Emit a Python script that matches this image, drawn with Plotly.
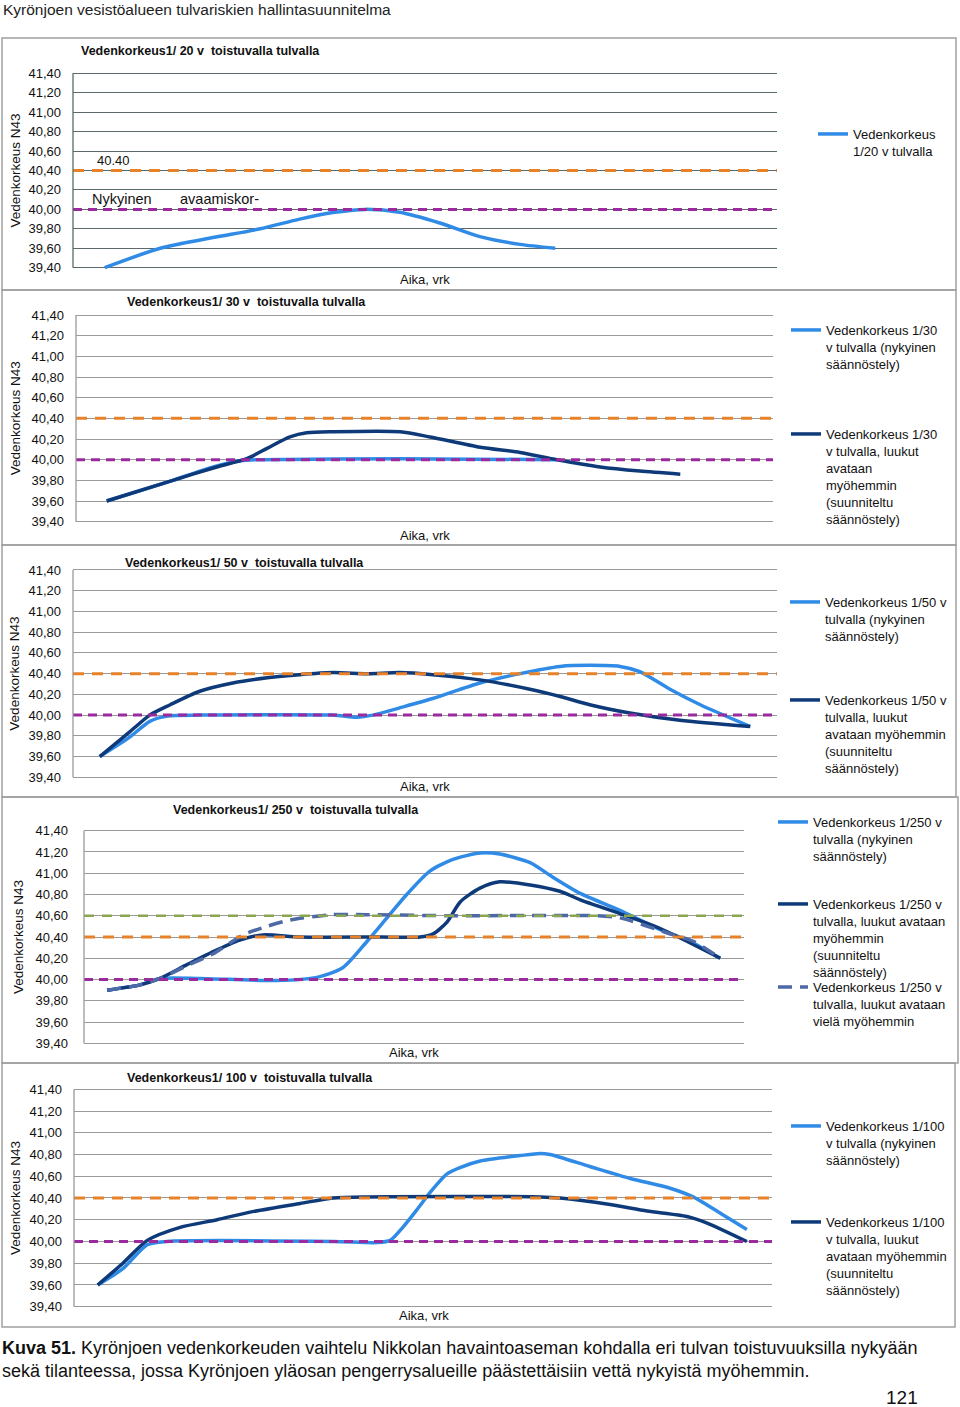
import plotly.graph_objects as go

FONT = "Liberation Sans, Arial, sans-serif"
W, H = 960, 1407

# ---------------- data ----------------
y_ticks = [39.40, 39.60, 39.80, 40.00, 40.20, 40.40, 40.60, 40.80, 41.00, 41.20, 41.40]
y_tick_labels = ["39,40", "39,60", "39,80", "40,00", "40,20", "40,40",
                 "40,60", "40,80", "41,00", "41,20", "41,40"]
y_low, y_high = 39.40, 41.40
y_pad = 0.02

level_orange = 40.40   # orange dashed reference level
level_purple = 40.00   # purple dashed reference level (nykyinen avaamiskorkeus)
level_green = 40.60    # green dashed reference level (1/250 panel)

# time axis: arbitrary units 0..100 across each plot (Aika, vrk)
t_span = [0, 100]

# 1/20
t20 = [4.5, 12.4, 19.9, 26.6, 32.2, 37.2, 41.5, 46.4, 52.1, 57.8, 63.5, 68.5]
h20 = [39.40, 39.60, 39.71, 39.80, 39.90, 39.97, 40.00, 39.97, 39.86, 39.72, 39.64, 39.60]

# 1/30
t30_now = [4.4, 13.9, 19.7, 23.5, 26.4, 46.5, 69.0]
h30_now = [39.60, 39.80, 39.93, 39.99, 40.00, 40.01, 40.00]
t30_plan = [4.4, 13.9, 19.7, 24.5, 27.4, 30.7, 33.1, 36.9, 46.5, 50.8, 58.0, 63.7, 69.0, 75.2, 80.9, 86.7]
h30_plan = [39.60, 39.80, 39.92, 40.01, 40.11, 40.22, 40.26, 40.27, 40.27, 40.22, 40.12, 40.07, 40.00, 39.93, 39.89, 39.86]

# 1/50
t50_now = [3.8, 8.1, 10.9, 13.4, 18.0, 36.9, 40.3, 42.6, 46.4, 51.1, 57.8, 63.5, 69.2, 73.4, 77.7, 80.5, 84.8, 89.1, 96.2]
h50_now = [39.60, 39.79, 39.94, 39.99, 40.00, 40.00, 39.98, 40.00, 40.07, 40.16, 40.31, 40.40, 40.47, 40.48, 40.47, 40.42, 40.25, 40.10, 39.89]
t50_plan = [3.8, 8.1, 10.9, 13.8, 18.0, 22.7, 27.6, 32.2, 36.9, 41.8, 46.4, 51.1, 57.8, 64.9, 69.2, 73.4, 79.1, 86.2, 96.2]
h50_plan = [39.60, 39.84, 40.00, 40.10, 40.23, 40.31, 40.36, 40.39, 40.41, 40.40, 40.41, 40.39, 40.34, 40.25, 40.18, 40.10, 40.02, 39.95, 39.89]

# 1/250
t250_now = [3.5, 8.5, 11.5, 17.6, 29.2, 35.3, 39.2, 42.9, 45.9, 48.9, 52.4, 55.9, 60.0, 63.0, 67.6, 70.6, 75.2, 81.2, 87.3, 91.8, 96.4]
h250_now = [39.90, 39.95, 40.01, 40.01, 39.99, 40.02, 40.11, 40.36, 40.58, 40.80, 41.02, 41.13, 41.19, 41.18, 41.10, 40.98, 40.81, 40.65, 40.47, 40.36, 40.20]
t250_plan = [3.5, 8.5, 11.5, 15.6, 19.5, 23.6, 27.1, 32.7, 45.0, 50.9, 52.9, 55.0, 57.0, 60.0, 63.0, 67.6, 72.1, 75.2, 81.2, 87.3, 96.4]
h250_plan = [39.90, 39.95, 40.01, 40.14, 40.26, 40.37, 40.42, 40.40, 40.40, 40.40, 40.43, 40.54, 40.73, 40.86, 40.92, 40.89, 40.83, 40.75, 40.62, 40.48, 40.20]
t250_later = [3.5, 8.5, 11.5, 15.6, 19.5, 24.1, 27.7, 31.2, 37.7, 42.9, 55.5, 77.7, 81.2, 88.3, 92.3, 96.4]
h250_later = [39.90, 39.95, 40.01, 40.13, 40.24, 40.42, 40.50, 40.56, 40.61, 40.61, 40.60, 40.60, 40.58, 40.44, 40.36, 40.20]

# 1/100
t100_now = [3.4, 7.0, 10.5, 13.3, 37.1, 43.4, 45.3, 47.1, 49.1, 51.0, 53.4, 55.3, 58.2, 63.9, 66.8, 68.2, 73.9, 79.7, 85.4, 88.7, 92.6, 96.4]
h100_now = [39.60, 39.75, 39.97, 40.00, 40.00, 39.99, 40.01, 40.13, 40.29, 40.45, 40.62, 40.68, 40.74, 40.79, 40.81, 40.80, 40.69, 40.58, 40.49, 40.41, 40.26, 40.11]
t100_plan = [3.4, 7.0, 10.5, 15.2, 20.5, 25.2, 32.4, 37.1, 42.0, 66.8, 69.6, 76.8, 82.1, 87.8, 90.7, 96.4]
h100_plan = [39.60, 39.80, 40.01, 40.13, 40.20, 40.27, 40.35, 40.40, 40.41, 40.41, 40.40, 40.34, 40.28, 40.23, 40.17, 40.00]

panel_titles = [
    "Vedenkorkeus1/ 20 v  toistuvalla tulvalla",
    "Vedenkorkeus1/ 30 v  toistuvalla tulvalla",
    "Vedenkorkeus1/ 50 v  toistuvalla tulvalla",
    "Vedenkorkeus1/ 250 v  toistuvalla tulvalla",
    "Vedenkorkeus1/ 100 v  toistuvalla tulvalla",
]

# ---------------- style ----------------
LIGHT = "#2f8be6"
DARK = "#0e3a7a"
ORANGE = "#e8822a"
PURPLE = "#9a2a9e"
GREEN = "#8ca650"
LATER = "#4d6aa6"

# panel geometry in px: plot left, right, top(41.40), bottom(39.40)
geo = [
    (73, 777, 73.3, 267.7),
    (76, 773, 315.0, 521.7),
    (73, 777, 570.0, 777.3),
    (84, 744, 830.7, 1043.3),
    (74, 772, 1089.3, 1306.7),
]
boxes = [(2, 38, 956, 290), (2, 290, 956, 545), (2, 545, 956, 797),
         (2, 797, 958, 1063), (2, 1063, 955, 1327)]
title_pos = [(200, 51), (247, 302), (245, 563), (296, 810), (250, 1078)]
aika_pos = [(425, 279), (425, 535), (425, 786), (414, 1052), (424, 1315)]
ytitle_x = [15, 15, 15, 18, 15]
gridcols = ["#5a6a6c", "#9a9a9a", "#9a9a9a", "#9a9a9a", "#9a9a9a"]

fig = go.Figure()


def ax(i):
    return ("x" if i == 0 else f"x{i+1}"), ("y" if i == 0 else f"y{i+1}")


def px2x(p):
    return p / W


def px2y(p):
    return 1 - p / H


legend_count = [0]
legend_specs = []


def series(i, t, h, color, name, text_x, line_y, dash="solid", width=3.5):
    legend_count[0] += 1
    n = legend_count[0]
    lname = "legend" if n == 1 else f"legend{n}"
    xa, ya = ax(i)
    fig.add_trace(go.Scatter(
        x=t, y=h, mode="lines", name=name, xaxis=xa, yaxis=ya,
        line=dict(color=color, width=width, shape="spline", smoothing=0.7, dash=dash),
        legend=lname, showlegend=True, hoverinfo="skip"))
    legend_specs.append((lname, text_x, line_y))


def level(i, value, color, dash, width=3):
    xa, ya = ax(i)
    fig.add_trace(go.Scatter(
        x=t_span, y=[value, value], mode="lines", xaxis=xa, yaxis=ya,
        line=dict(color=color, width=width, dash=dash), showlegend=False, hoverinfo="skip"))


# panel 1
series(0, t20, h20, LIGHT, "Vedenkorkeus<br>1/20 v tulvalla", 853, 134)
# panel 2
series(1, t30_now, h30_now, LIGHT, "Vedenkorkeus 1/30<br>v tulvalla (nykyinen<br>säännöstely)", 826, 330)
series(1, t30_plan, h30_plan, DARK, "Vedenkorkeus 1/30<br>v tulvalla, luukut<br>avataan<br>myöhemmin<br>(suunniteltu<br>säännöstely)", 826, 434)
# panel 3
series(2, t50_now, h50_now, LIGHT, "Vedenkorkeus 1/50 v<br>tulvalla (nykyinen<br>säännöstely)", 825, 602)
series(2, t50_plan, h50_plan, DARK, "Vedenkorkeus 1/50 v<br>tulvalla, luukut<br>avataan myöhemmin<br>(suunniteltu<br>säännöstely)", 825, 700)
# panel 4
series(3, t250_now, h250_now, LIGHT, "Vedenkorkeus 1/250 v<br>tulvalla (nykyinen<br>säännöstely)", 813, 822)
series(3, t250_plan, h250_plan, DARK, "Vedenkorkeus 1/250 v<br>tulvalla, luukut avataan<br>myöhemmin<br>(suunniteltu<br>säännöstely)", 813, 904)
series(3, t250_later, h250_later, LATER, "Vedenkorkeus 1/250 v<br>tulvalla, luukut avataan<br>vielä myöhemmin", 813, 987, dash="14px,8px")
# panel 5
series(4, t100_now, h100_now, LIGHT, "Vedenkorkeus 1/100<br>v tulvalla (nykyinen<br>säännöstely)", 826, 1126)
series(4, t100_plan, h100_plan, DARK, "Vedenkorkeus 1/100<br>v tulvalla, luukut<br>avataan myöhemmin<br>(suunniteltu<br>säännöstely)", 826, 1222)

for i in range(5):
    if i == 3:
        level(i, level_green, GREEN, "10px,8px", 2.5)
    level(i, level_orange, ORANGE, "11px,8px", 3)
    level(i, level_purple, PURPLE, "9px,6px", 3)

layout = dict(
    width=W, height=H, margin=dict(l=0, r=0, t=0, b=0, pad=0, autoexpand=False),
    paper_bgcolor="white", plot_bgcolor="white",
    font=dict(family=FONT, color="#111", size=13),
    showlegend=True,
)

for i, (l, r, t, b) in enumerate(geo):
    sx = "" if i == 0 else str(i + 1)
    ext = (b - t) * y_pad / (y_high - y_low)
    layout["xaxis" + sx] = dict(
        domain=[px2x(l), px2x(r)], range=t_span, anchor="y" + sx,
        showgrid=False, zeroline=False, showticklabels=False, showline=False, ticks="",
        fixedrange=True, automargin=False)
    layout["yaxis" + sx] = dict(
        domain=[px2y(b + ext), px2y(t - ext)], range=[y_low - y_pad, y_high + y_pad], anchor="x" + sx,
        tickvals=y_ticks, ticktext=y_tick_labels, showgrid=True, gridcolor=gridcols[i],
        gridwidth=1.3, zeroline=False, showline=False, automargin=False,
        ticks="", ticklabelstandoff=11 if i != 3 else 15,
        tickfont=dict(family=FONT, size=13, color="#111"), fixedrange=True)

for lname, tx, ly in legend_specs:
    layout[lname] = dict(
        x=px2x(tx - 40), y=px2y(ly - 15), xanchor="left", yanchor="top",
        bgcolor="rgba(0,0,0,0)", valign="top", itemwidth=30,
        font=dict(family=FONT, size=13, color="#111"))

fig.update_layout(**layout)

shapes = []
for (x0, y0, x1, y1) in boxes:
    shapes.append(dict(type="rect", xref="paper", yref="paper",
                       x0=px2x(x0), x1=px2x(x1), y0=px2y(y1), y1=px2y(y0),
                       line=dict(color="#a0a0a0", width=1.5), fillcolor="rgba(0,0,0,0)", layer="below"))
# left value-axis lines, from 39.40 to 41.40 on each y axis
for i in range(5):
    xa, ya = ax(i)
    shapes.append(dict(type="line", xref=xa + " domain", yref=ya, x0=0, x1=0, y0=y_low, y1=y_high,
                       line=dict(color=gridcols[i], width=1.3)))
fig.update_layout(shapes=shapes)

ann = []
for i in range(5):
    l, r, t, b = geo[i]
    tx, ty = title_pos[i]
    ann.append(dict(text="<b>" + panel_titles[i] + "</b>", x=px2x(tx), y=px2y(ty),
                    xref="paper", yref="paper", showarrow=False, xanchor="center", yanchor="middle",
                    font=dict(family=FONT, size=12.5, color="#111")))
    ax_, ay_ = aika_pos[i]
    ann.append(dict(text="Aika, vrk", x=px2x(ax_), y=px2y(ay_), xref="paper", yref="paper",
                    showarrow=False, xanchor="center", yanchor="middle",
                    font=dict(family=FONT, size=13, color="#111")))
    ann.append(dict(text="Vedenkorkeus N43", x=px2x(ytitle_x[i]), y=px2y((t + b) / 2),
                    xref="paper", yref="paper", showarrow=False, textangle=-90,
                    xanchor="center", yanchor="middle",
                    font=dict(family=FONT, size=13.5, color="#111")))

ann.append(dict(text="40.40", x=px2x(95), y=px2y(160), xref="paper", yref="paper", showarrow=False,
                xanchor="left", yanchor="middle", font=dict(family=FONT, size=13, color="#111")))
ann.append(dict(text="Nykyinen", x=px2x(90), y=px2y(199), xref="paper", yref="paper", showarrow=False,
                xanchor="left", yanchor="middle", font=dict(family=FONT, size=14.5, color="#111")))
ann.append(dict(text="avaamiskor-", x=px2x(178), y=px2y(199), xref="paper", yref="paper", showarrow=False,
                xanchor="left", yanchor="middle", font=dict(family=FONT, size=14.5, color="#111")))

ann.append(dict(text="Kyrönjoen vesistöalueen tulvariskien hallintasuunnitelma", x=px2x(1), y=px2y(9),
                xref="paper", yref="paper", showarrow=False, xanchor="left", yanchor="middle",
                font=dict(family=FONT, size=15.5, color="#222")))
ann.append(dict(text="<b>Kuva 51.</b> Kyrönjoen vedenkorkeuden vaihtelu Nikkolan havaintoaseman kohdalla eri tulvan toistuvuuksilla nykyään<br>"
                     "sekä tilanteessa, jossa Kyrönjoen yläosan pengerrysalueille päästettäisiin vettä nykyistä myöhemmin.",
                x=px2x(0), y=px2y(1359), xref="paper", yref="paper", showarrow=False,
                xanchor="left", yanchor="middle", align="left",
                font=dict(family=FONT, size=18, color="#111")))
ann.append(dict(text="121", x=px2x(920), y=px2y(1397), xref="paper", yref="paper", showarrow=False,
                xanchor="right", yanchor="middle", font=dict(family=FONT, size=19, color="#111")))

fig.update_layout(annotations=ann)

fig.write_html("out.html", config=dict(displayModeBar=False),
               post_script="document.body.style.margin='0';")
